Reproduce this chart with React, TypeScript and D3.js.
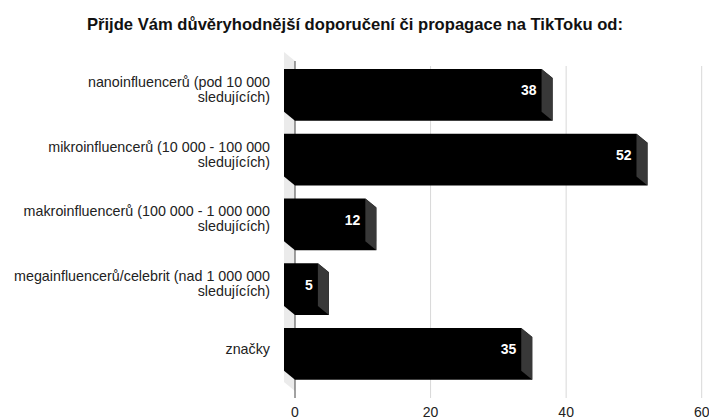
import React, { useEffect } from "react";
import * as d3 from "d3";

const title = "Přijde Vám důvěryhodnější doporučení či propagace na TikToku od:";
const categories = ["nano", "mikro", "makro", "mega", "znacky"];
const labelLines = [
  ["nanoinfluencerů (pod 10 000", "sledujících)"],
  ["mikroinfluencerů (10 000 - 100 000", "sledujících)"],
  ["makroinfluencerů (100 000 - 1 000 000", "sledujících)"],
  ["megainfluencerů/celebrit (nad 1 000 000", "sledujících)"],
  ["značky"],
];
const values = [38, 52, 12, 5, 35];
const xTicks = [0, 20, 40, 60];

const width = 709;
const height = 419;
const dx = 11; // 3d depth
const dy = 9;
const gridTop = 62;
const gridBottom = 398;
const font = "Arial, 'Liberation Sans', sans-serif";

const App = () => {
  useEffect(() => {
    document.body.style.margin = "0";
  }, []);

  const x = d3.scaleLinear().domain([0, 60]).range([295, 701.7]);
  const y = d3
    .scaleBand()
    .domain(categories)
    .range([62.5, 386.25])
    .paddingInner(0.2)
    .paddingOuter(0.1);
  const bw = y.bandwidth();
  const x0 = x(0);

  return (
    <svg width={width} height={height} style={{ display: "block", background: "#fff" }}>
      <text
        x={355}
        y={30}
        textAnchor="middle"
        fontFamily={font}
        fontWeight="bold"
        fontSize={16.6}
        fill="#111"
      >
        {title}
      </text>

      {/* back wall */}
      <polygon
        points={[
          [x0 - dx, gridTop - dy - 1],
          [x0, gridTop - 1],
          [x0, 391],
          [x0 - dx, 391 - dy],
        ].join(" ")}
        fill="#ebebeb"
      />

      {xTicks.map(t => (
        <g key={t}>
          <line
            x1={x(t)}
            x2={x(t)}
            y1={t === 0 ? gridTop - 1 : gridTop + 4}
            y2={gridBottom}
            stroke={t === 0 ? "#444" : "#d8d8d8"}
            strokeWidth={1}
          />
          <text
            x={x(t)}
            y={417}
            textAnchor="middle"
            fontFamily={font}
            fontSize={14}
            fill="#222"
          >
            {t}
          </text>
        </g>
      ))}

      {categories.map((c, i) => {
        const t = y(c) as number;
        const b = t + bw;
        const xv = x(values[i]);
        const hex = [
          [x0 - dx, t],
          [xv - dx, t],
          [xv, t + dy],
          [xv, b],
          [x0, b],
          [x0 - dx, b - dy],
        ];
        const side = [
          [xv - dx, t],
          [xv, t + dy],
          [xv, b],
          [xv - dx, b - dy],
        ];
        const fc = t + (bw - dy) / 2;
        const lines = labelLines[i];
        return (
          <g key={c}>
            <polygon points={hex.join(" ")} fill="#000" />
            <polygon points={side.join(" ")} fill="#383838" />
            <text
              x={xv - dx - 5}
              y={fc + 5}
              textAnchor="end"
              fontFamily={font}
              fontWeight="bold"
              fontSize={14}
              fill="#fff"
            >
              {values[i]}
            </text>
            {lines.map((l, j) => (
              <text
                key={j}
                x={270}
                y={lines.length === 1 ? fc + 5 : fc - 3.5 + j * 15}
                textAnchor="end"
                fontFamily={font}
                fontSize={14.3}
                fill="#222"
              >
                {l}
              </text>
            ))}
          </g>
        );
      })}
    </svg>
  );
};

export default App;
